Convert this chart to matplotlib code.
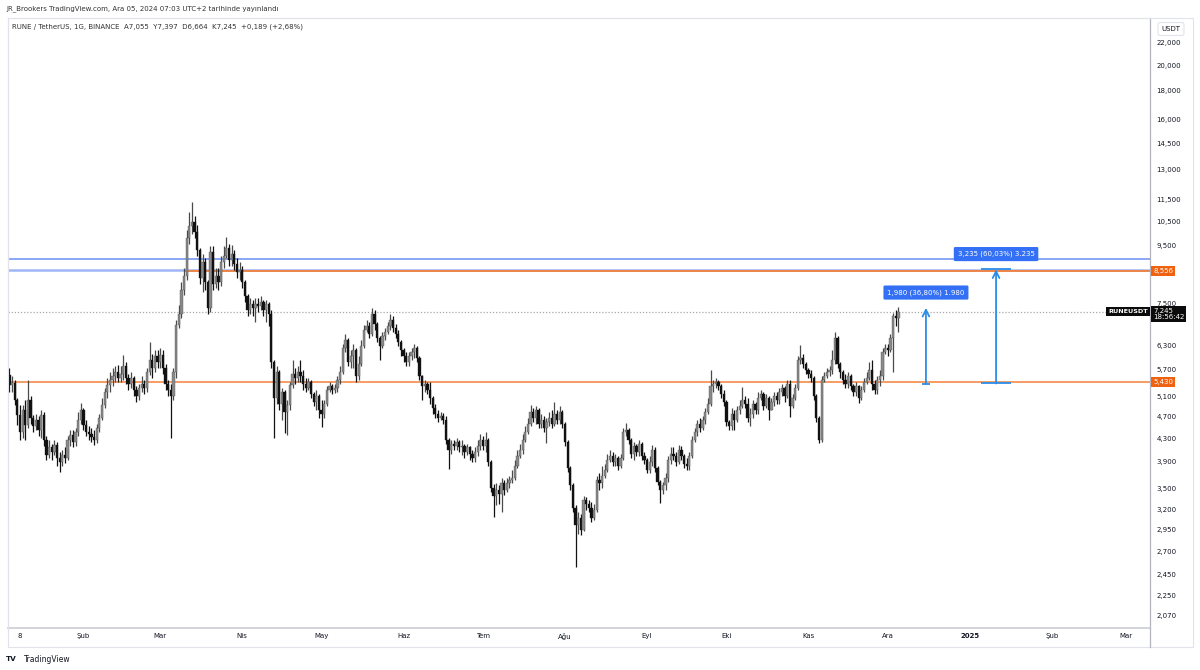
import numpy as np
import pandas as pd
import matplotlib
matplotlib.use('Agg')
import matplotlib.pyplot as plt
import matplotlib.dates as mdates
from matplotlib.ticker import FixedLocator, FuncFormatter, NullLocator
from matplotlib.patches import Rectangle
from matplotlib.lines import Line2D
import matplotlib.transforms as mtransforms

plt.rcParams['font.family'] = ['DejaVu Sans']

# ---------------- data (RUNE/USDT daily) ----------------
start_date = '2024-01-04'
first_open = 5.58
close = [
    5.36, 5.40, 5.04, 4.74, 4.42, 4.83, 4.55, 5.04, 4.68, 4.53,
    4.64, 4.45, 4.74, 4.27, 4.02, 4.14, 4.07, 4.19, 3.97, 3.90,
    4.02, 3.97, 4.27, 4.36, 4.24, 4.42, 4.64, 4.83, 4.55, 4.42,
    4.38, 4.33, 4.27, 4.49, 4.68, 4.93, 5.21, 5.36, 5.47, 5.56,
    5.65, 5.52, 5.61, 5.79, 5.52, 5.38, 5.52, 5.25, 5.12, 5.29,
    5.38, 5.29, 5.65, 5.94, 5.75, 6.04, 5.89, 6.06, 5.75, 5.38,
    5.25, 5.12, 5.65, 6.86, 7.18, 7.92, 8.39, 9.81, 10.31, 10.48,
    10.06, 9.34, 8.32, 8.89, 8.19, 7.36, 9.26, 8.12, 8.39, 8.19,
    8.89, 9.11, 9.42, 8.96, 9.19, 8.82, 8.53, 8.60, 8.19, 7.73,
    7.30, 7.48, 7.36, 7.48, 7.42, 7.54, 7.30, 7.48, 7.18, 5.89,
    5.08, 5.65, 4.95, 5.21, 4.80, 4.93, 5.36, 5.61, 5.52, 5.65,
    5.56, 5.38, 5.29, 5.43, 5.16, 4.99, 5.12, 4.83, 4.76, 4.95,
    5.25, 5.34, 5.25, 5.29, 5.47, 5.65, 6.24, 6.45, 5.89, 6.04,
    6.19, 5.56, 5.84, 6.29, 6.72, 6.83, 6.61, 7.18, 6.89, 6.50,
    6.29, 6.56, 6.66, 6.83, 7.00, 6.78, 6.61, 6.40, 6.19, 6.04,
    5.89, 6.04, 6.14, 6.24, 5.99, 5.56, 5.34, 5.38, 5.25, 5.08,
    4.87, 4.76, 4.68, 4.72, 4.64, 4.27, 4.10, 4.20, 4.17, 4.24,
    4.14, 4.17, 4.07, 4.14, 4.03, 3.97, 4.07, 4.17, 4.27, 4.17,
    4.27, 3.90, 3.51, 3.39, 3.48, 3.42, 3.57, 3.48, 3.57, 3.62,
    3.65, 3.84, 4.00, 4.10, 4.27, 4.42, 4.56, 4.80, 4.68, 4.83,
    4.56, 4.64, 4.49, 4.60, 4.68, 4.56, 4.76, 4.64, 4.80, 4.56,
    4.24, 3.81, 3.54, 3.23, 3.01, 3.10, 2.95, 3.34, 3.28, 3.23,
    3.10, 3.20, 3.62, 3.57, 3.68, 3.78, 3.94, 4.00, 3.90, 3.97,
    3.84, 3.97, 4.42, 4.45, 4.27, 4.03, 4.17, 4.07, 4.20, 4.00,
    3.94, 3.78, 3.90, 4.10, 3.81, 3.59, 3.48, 3.54, 3.65, 3.94,
    4.03, 4.00, 3.90, 4.10, 4.00, 3.87, 3.84, 4.00, 4.27, 4.42,
    4.56, 4.49, 4.64, 4.80, 4.95, 5.34, 5.38, 5.43, 5.34, 5.16,
    4.99, 4.60, 4.53, 4.76, 4.64, 4.83, 4.91, 5.04, 4.95, 4.68,
    4.76, 4.95, 4.83, 5.08, 5.16, 4.91, 5.08, 4.83, 4.99, 5.12,
    5.04, 5.21, 5.29, 5.12, 5.38, 4.91, 5.08, 5.29, 5.94, 5.99,
    5.84, 5.70, 5.61, 5.52, 5.12, 4.68, 4.27, 5.47, 5.56, 5.65,
    5.70, 5.94, 6.50, 5.84, 5.65, 5.47, 5.38, 5.56, 5.34, 5.21,
    5.34, 5.08, 5.25, 5.43, 5.52, 5.70, 5.38, 5.25, 5.47, 5.56,
    6.14, 6.24, 6.19, 6.50, 7.12, 7.055, 7.245,
]
high = [
    5.75, 5.56, 5.47, 5.08, 4.93, 4.93, 5.04, 5.47, 5.12, 4.74,
    4.76, 4.72, 4.83, 4.80, 4.34, 4.27, 4.20, 4.27, 4.24, 4.07,
    4.10, 4.14, 4.34, 4.45, 4.45, 4.49, 4.80, 4.97, 4.87, 4.64,
    4.53, 4.49, 4.45, 4.56, 4.76, 5.08, 5.29, 5.52, 5.65, 5.75,
    5.79, 5.82, 5.79, 6.06, 5.89, 5.61, 5.65, 5.56, 5.34, 5.38,
    5.56, 5.47, 5.75, 6.40, 6.09, 6.19, 6.19, 6.24, 6.19, 5.84,
    5.47, 5.38, 5.75, 7.00, 7.45, 8.19, 8.67, 10.14, 10.92, 11.38,
    10.74, 10.36, 9.42, 9.19, 9.04, 8.26, 9.49, 9.49, 8.67, 8.67,
    9.11, 9.49, 9.85, 9.57, 9.53, 9.34, 9.04, 8.89, 8.74, 8.26,
    7.79, 7.67, 7.60, 7.67, 7.67, 7.73, 7.60, 7.60, 7.54, 7.30,
    5.94, 5.79, 5.70, 5.29, 5.25, 5.04, 5.43, 5.94, 5.75, 5.79,
    5.94, 5.70, 5.52, 5.52, 5.47, 5.21, 5.25, 5.16, 5.04, 5.04,
    5.34, 5.43, 5.38, 5.38, 5.56, 5.79, 6.34, 6.61, 6.50, 6.19,
    6.34, 6.24, 6.04, 6.45, 6.86, 7.00, 6.94, 7.36, 7.30, 6.94,
    6.56, 6.66, 6.78, 6.94, 7.18, 7.12, 6.89, 6.72, 6.45, 6.24,
    6.14, 6.14, 6.24, 6.34, 6.29, 6.04, 5.58, 5.47, 5.43, 5.43,
    5.12, 4.95, 4.83, 4.80, 4.78, 4.72, 4.31, 4.27, 4.27, 4.31,
    4.27, 4.27, 4.20, 4.20, 4.17, 4.10, 4.14, 4.27, 4.38, 4.34,
    4.42, 4.31, 3.94, 3.56, 3.57, 3.54, 3.65, 3.62, 3.65, 3.68,
    3.78, 3.94, 4.10, 4.20, 4.38, 4.53, 4.68, 4.93, 4.87, 4.91,
    4.87, 4.76, 4.72, 4.68, 4.80, 4.83, 4.99, 4.83, 4.91, 4.83,
    4.60, 4.27, 3.84, 3.57, 3.27, 3.18, 3.15, 3.39, 3.37, 3.34,
    3.31, 3.28, 3.68, 3.72, 3.84, 3.87, 4.03, 4.10, 4.07, 4.03,
    4.00, 4.03, 4.49, 4.58, 4.49, 4.31, 4.24, 4.20, 4.27, 4.24,
    4.07, 3.97, 4.00, 4.19, 4.14, 3.84, 3.62, 3.59, 3.72, 4.00,
    4.14, 4.14, 4.07, 4.19, 4.17, 4.03, 3.97, 4.07, 4.34, 4.49,
    4.64, 4.68, 4.72, 4.87, 5.08, 5.70, 5.47, 5.52, 5.47, 5.38,
    5.25, 5.04, 4.64, 4.87, 4.83, 4.91, 5.04, 5.32, 5.12, 5.08,
    4.87, 5.04, 4.99, 5.21, 5.25, 5.21, 5.16, 5.12, 5.08, 5.21,
    5.21, 5.29, 5.38, 5.34, 5.47, 5.47, 5.16, 5.38, 6.04, 6.32,
    6.09, 5.89, 5.75, 5.70, 5.56, 5.16, 4.72, 5.56, 5.65, 5.75,
    5.79, 6.19, 6.66, 6.56, 5.89, 5.70, 5.61, 5.65, 5.61, 5.38,
    5.43, 5.36, 5.34, 5.52, 5.65, 5.89, 5.94, 5.47, 5.56, 5.70,
    6.24, 6.34, 6.34, 6.61, 7.21, 7.30, 7.397,
]
low = [
    5.21, 5.21, 4.93, 4.55, 4.27, 4.31, 4.27, 4.49, 4.56, 4.42,
    4.45, 4.34, 4.31, 4.17, 3.94, 3.97, 3.94, 4.02, 3.84, 3.75,
    3.84, 3.89, 3.94, 4.17, 4.15, 4.17, 4.34, 4.56, 4.45, 4.34,
    4.27, 4.24, 4.19, 4.22, 4.42, 4.64, 4.87, 5.08, 5.21, 5.34,
    5.43, 5.43, 5.43, 5.47, 5.38, 5.25, 5.29, 5.12, 4.99, 5.04,
    5.21, 5.16, 5.21, 5.58, 5.52, 5.65, 5.75, 5.75, 5.61, 5.25,
    5.12, 4.31, 5.04, 5.52, 6.78, 7.06, 7.76, 8.26, 9.57, 9.98,
    9.81, 9.11, 8.12, 7.86, 7.92, 7.18, 7.24, 7.92, 7.99, 7.92,
    8.05, 8.67, 9.04, 8.74, 8.74, 8.60, 8.32, 8.26, 7.99, 7.54,
    7.12, 7.18, 7.12, 6.94, 7.24, 7.30, 7.12, 6.94, 6.83, 5.75,
    4.31, 4.95, 4.83, 4.64, 4.40, 4.36, 4.83, 5.29, 5.38, 5.43,
    5.43, 5.25, 5.21, 5.25, 5.08, 4.91, 4.83, 4.68, 4.51, 4.68,
    4.91, 5.21, 5.16, 5.18, 5.21, 5.38, 5.61, 6.14, 5.79, 5.75,
    5.75, 5.43, 5.47, 5.79, 6.24, 6.66, 6.50, 6.56, 6.72, 6.40,
    5.94, 6.24, 6.45, 6.61, 6.72, 6.66, 6.50, 6.29, 6.04, 5.89,
    5.79, 5.79, 5.94, 5.99, 5.89, 5.47, 5.04, 5.21, 5.16, 4.95,
    4.76, 4.68, 4.60, 4.64, 4.56, 4.20, 3.79, 4.03, 4.10, 4.10,
    4.07, 4.02, 3.97, 4.02, 3.94, 3.90, 3.90, 4.00, 4.10, 4.10,
    4.07, 3.84, 3.45, 3.11, 3.27, 3.28, 3.18, 3.40, 3.45, 3.51,
    3.57, 3.62, 3.81, 3.97, 4.03, 4.24, 4.38, 4.53, 4.60, 4.56,
    4.49, 4.49, 4.42, 4.22, 4.53, 4.49, 4.53, 4.56, 4.56, 4.49,
    4.17, 3.75, 3.48, 3.18, 2.53, 2.90, 2.89, 2.93, 3.20, 3.18,
    3.05, 3.07, 3.18, 3.48, 3.51, 3.65, 3.75, 3.90, 3.84, 3.84,
    3.78, 3.81, 3.94, 4.34, 4.20, 3.97, 3.94, 4.00, 4.00, 3.94,
    3.87, 3.72, 3.72, 3.84, 3.75, 3.54, 3.30, 3.42, 3.48, 3.59,
    3.87, 3.94, 3.84, 3.87, 3.94, 3.81, 3.78, 3.78, 3.97, 4.24,
    4.34, 4.42, 4.45, 4.56, 4.76, 4.91, 5.21, 5.29, 5.25, 5.08,
    4.91, 4.53, 4.45, 4.45, 4.45, 4.60, 4.76, 4.87, 4.87, 4.60,
    4.53, 4.68, 4.76, 4.76, 5.04, 4.83, 4.87, 4.64, 4.83, 4.91,
    4.95, 4.95, 5.12, 4.99, 5.08, 4.70, 4.87, 5.04, 5.25, 5.84,
    5.75, 5.61, 5.52, 5.43, 5.04, 4.60, 4.22, 4.24, 5.43, 5.52,
    5.56, 5.61, 5.84, 5.75, 5.52, 5.38, 5.29, 5.29, 5.25, 5.12,
    5.12, 4.97, 5.04, 5.21, 5.38, 5.47, 5.25, 5.16, 5.16, 5.34,
    5.47, 6.09, 6.04, 6.14, 5.65, 6.83, 6.664,
]

# horizontal levels
res_level = 8.556
res_start = '2024-03-10'
sup_level = 5.430
blue_levels = [9.00, 8.60]
last_price = 7.245
last_time = '18:56:42'

# measurement tools (date, from, to, label)
meas_dates = ['2024-12-15 10:00', '2025-01-10 22:00']
meas_from = [5.380, 5.389]
meas_to = [7.360, 8.624]
meas_labels = ['1,980 (36,80%) 1.980', '3,235 (60,03%) 3.235']
meas_cap_half = [1.4, 5.7]      # days

# axes tick labels
price_ticks = [22, 20, 18, 16, 14.5, 13, 11.5, 10.5, 9.5, 7.5, 6.3, 5.7, 5.1,
               4.7, 4.3, 3.9, 3.5, 3.2, 2.95, 2.7, 2.45, 2.25, 2.07]
date_ticks = ['2024-01-08', '2024-02-01', '2024-03-01', '2024-04-01', '2024-05-01',
              '2024-06-01', '2024-07-01', '2024-08-01', '2024-09-01', '2024-10-01',
              '2024-11-01', '2024-12-01', '2025-01-01', '2025-02-01', '2025-03-01']
date_labels = ['8', 'Şub', 'Mar', 'Nis', 'May', 'Haz', 'Tem', 'Ağu', 'Eyl', 'Eki',
               'Kas', 'Ara', '2025', 'Şub', 'Mar']

title1 = 'JR_Brookers TradingView.com, Ara 05, 2024 07:03 UTC+2 tarihinde yayınlandı'
title2 = 'RUNE / TetherUS, 1G, BINANCE  A7,055  Y7,397  D6,664  K7,245  +0,189 (+2,68%)'

# ---------------- figure ----------------
W, H = 1200, 670
fig = plt.figure(figsize=(W / 100, H / 100), dpi=100)
fig.patch.set_facecolor('white')
L, R, T, B = 8, 1150, 18, 628
ax = fig.add_axes([L / W, (H - B) / H, (R - L) / W, (B - T) / H])
ax.set_facecolor('white')
ax.set_yscale('log')
ax.set_ylim(1.968, 24.29)
x0 = mdates.date2num(pd.Timestamp(start_date))
ax.set_xlim(x0 - 0.53, x0 + 431.1)

dates = pd.date_range(start_date, periods=len(close), freq='D')
xs = mdates.date2num(dates)
c = np.array(close)
o = np.array([first_open] + close[:-1])
h = np.maximum(np.array(high), np.maximum(o, c))
lo = np.minimum(np.array(low), np.minimum(o, c))
up = c >= o
body_up, body_dn = '#8a8a8a', '#111111'
wick_up, wick_dn = '#4a4a4a', '#111111'
body_cols = np.where(up, body_up, body_dn)
wick_cols = np.where(up, wick_up, wick_dn)

ax.vlines(xs, lo, h, colors=wick_cols, linewidth=0.9, zorder=3)
bottoms = np.minimum(o, c)
heights = np.maximum(np.abs(c - o), bottoms * 0.005)
ax.bar(xs, heights, bottom=bottoms, width=0.85, color=body_cols,
       edgecolor=wick_cols, linewidth=0.25, zorder=4)

# levels
ax.axhline(blue_levels[0], color='#6b8ff2', lw=1.1, zorder=2)
ax.axhline(blue_levels[1], color='#9fb6f6', lw=1.8, zorder=2)
ax.hlines(res_level, mdates.date2num(pd.Timestamp(res_start)), x0 + 440,
          color='#f5803a', lw=1.3, zorder=2)
ax.axhline(sup_level, color='#f5803a', lw=1.1, zorder=2)
ax.axhline(last_price, color='#a8a8a8', lw=0.9, ls=(0, (1, 1.5)), zorder=2)

# measurement arrows
arrow_col = '#2b8de8'
for d, f, t, lab, hw in zip(meas_dates, meas_from, meas_to, meas_labels, meas_cap_half):
    xd = mdates.date2num(pd.Timestamp(d))
    ax.annotate('', xy=(xd, t), xytext=(xd, f),
                arrowprops=dict(arrowstyle='->', color=arrow_col, lw=1.3,
                                mutation_scale=12, shrinkA=0, shrinkB=0), zorder=6)
    ax.hlines(f, xd - hw, xd + hw, color=arrow_col, lw=1.3, zorder=6)
    if hw > 3:
        ax.hlines(t, xd - hw, xd + hw, color=arrow_col, lw=1.3, zorder=6)
    ax.annotate(lab, xy=(xd, t), xytext=(0, 11), textcoords='offset points',
                ha='center', va='center', fontsize=5, color='white', zorder=7,
                bbox=dict(boxstyle='round,pad=0.55,rounding_size=0.2',
                          fc='#3370f5', ec='none'))

# y axis on right
ax.yaxis.tick_right()
ax.yaxis.set_major_locator(FixedLocator(price_ticks))
ax.yaxis.set_minor_locator(NullLocator())
ax.yaxis.set_major_formatter(FuncFormatter(lambda v, p: f'{v:.3f}'.replace('.', ',')))
ax.tick_params(axis='y', length=0, pad=4.5, labelsize=5, labelcolor='#131722')

# x axis
ax.xaxis.set_major_locator(FixedLocator(mdates.date2num(pd.to_datetime(date_ticks))))
ax.xaxis.set_minor_locator(NullLocator())
ax.set_xticklabels(date_labels)
ax.tick_params(axis='x', length=0, pad=3.5, labelsize=5, labelcolor='#131722')
for tl in ax.get_xticklabels():
    if tl.get_text() == '2025':
        tl.set_fontweight('bold')

for s in ['left', 'top']:
    ax.spines[s].set_color('#e0e3eb')
    ax.spines[s].set_linewidth(0.8)
ax.spines['right'].set_color('#b2b5be')
ax.spines['right'].set_linewidth(0.9)
ax.spines['bottom'].set_color('#c9ccd3')
ax.spines['bottom'].set_linewidth(1.2)

# right-axis labels
ytr = mtransforms.blended_transform_factory(ax.transAxes, ax.transData)
lab_x = 1.0 + 3 / (R - L)
for lvl in [res_level, sup_level]:
    ax.text(lab_x, lvl, f'{lvl:.3f}'.replace('.', ','), transform=ytr, ha='left',
            va='center', fontsize=5, color='white', zorder=8, clip_on=False,
            bbox=dict(boxstyle='square,pad=0.3', fc='#f0620f', ec='none'))
cur_tr = mtransforms.offset_copy(ytr, fig=fig, x=0, y=4, units='dots')
ax.text(lab_x, last_price, f'{last_price:.3f}'.replace('.', ',') + '\n' + last_time,
        transform=cur_tr, ha='left', va='top', fontsize=5, color='white',
        linespacing=1.15, zorder=8, clip_on=False,
        bbox=dict(boxstyle='square,pad=0.3', fc='#0b0b0b', ec='none'))
ax.text(1.0 - 2 / (R - L), last_price, 'RUNEUSDT', transform=ytr, ha='right',
        va='center', fontsize=4.6, color='white', fontweight='bold', zorder=8,
        bbox=dict(boxstyle='square,pad=0.3', fc='#0b0b0b', ec='none'))

# frame around whole chart pane
fig.add_artist(Rectangle((L / W, (H - 647) / H), (1193 - L) / W, (647 - T) / H,
                         transform=fig.transFigure, fill=False, ec='#e0e3eb', lw=0.8))
fig.add_artist(Line2D([R / W, R / W], [(H - 647) / H, (H - B) / H],
                      transform=fig.transFigure, color='#b2b5be', lw=0.9))

# USDT box
fig.text(1171 / W, (H - 29) / H, 'USDT', ha='center', va='center', fontsize=5,
         color='#131722', zorder=10,
         bbox=dict(boxstyle='round,pad=0.5,rounding_size=0.3', fc='white', ec='#e0e3eb', lw=0.8))

# headers
fig.text(6 / W, (H - 9) / H, title1, ha='left', va='center', fontsize=5, color='#333333')
fig.text(12 / W, (H - 27) / H, title2, ha='left', va='center', fontsize=5, color='#333333')
fig.text(6 / W, (H - 659) / H, 'TV', ha='left', va='center', fontsize=5.2,
         fontweight='bold', color='#131722')
fig.text(24 / W, (H - 659) / H, 'TradingView', ha='left', va='center', fontsize=5.5,
         color='#131722')

fig.savefig('out.png', dpi=100, facecolor='white')
